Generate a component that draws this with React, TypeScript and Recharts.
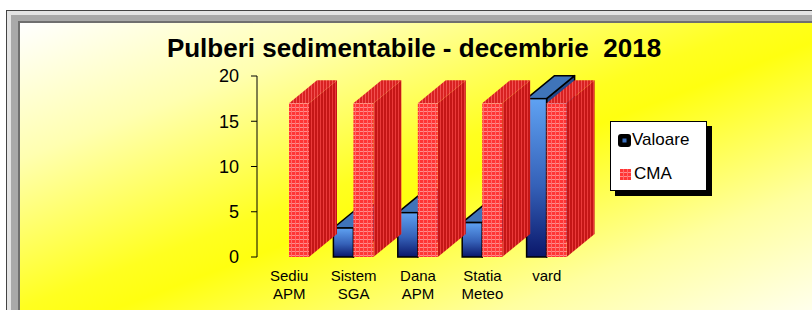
import React from 'react';
import { BarChart, Bar, XAxis, YAxis, Legend } from 'recharts';

const categories = ['Sediu APM', 'Sistem SGA', 'Dana APM', 'Statia Meteo', 'vard'];
const valoare = [0, 3.2, 4.9, 3.8, 17.5];
const cma = [17, 17, 17, 17, 17];
const yTicks = [0, 5, 10, 15, 20];

const data = categories.map((name, i) => ({ name, valoare: valoare[i], cma: cma[i] }));

const FONT = '"Liberation Sans", Arial, sans-serif';
// depth of the fake 3D boxes
const DX = 28;
const DY = 23;

const Box3D = (props: any) => {
  const { x, y, width: w, height: h, kind } = props;
  if (!h || h <= 0) return null;
  const top = `${x},${y} ${x + DX},${y - DY} ${x + w + DX},${y - DY} ${x + w},${y}`;
  const side = `${x + w},${y} ${x + w + DX},${y - DY} ${x + w + DX},${y + h - DY} ${x + w},${y + h}`;
  if (kind === 'blue') {
    return (
      <g>
        <polygon points={side} fill="#24488a" stroke="#000" strokeWidth={1.5} strokeLinejoin="round" />
        <polygon points={top} fill="#3f74b9" stroke="#000" strokeWidth={1.5} strokeLinejoin="round" />
        <rect x={x} y={y} width={w} height={h} fill="url(#blueFront)" stroke="#000" strokeWidth={1.5} />
      </g>
    );
  }
  return (
    <g>
      <polygon points={side} fill="url(#redSide)" />
      <polygon points={top} fill="url(#redTop)" />
      <rect x={x} y={y} width={w} height={h} fill="url(#redFront)" />
    </g>
  );
};

const XTick = ({ x, y, payload }: any) => {
  const lines = String(payload.value).split(' ');
  return (
    <text textAnchor="middle" fontSize={15} fontFamily={FONT} fill="#000">
      {lines.map((l, i) => (
        <tspan key={i} x={x} y={y + 16 + i * 17.5}>{l}</tspan>
      ))}
    </text>
  );
};

const LegendBox = () => (
  <div
    style={{
      width: 95,
      height: 68,
      background: '#fff',
      border: '1px solid #000',
      boxShadow: '5px 5px 0 #000',
      fontFamily: FONT,
      fontSize: 17,
      color: '#000',
      position: 'relative',
    }}
  >
    <div style={{ position: 'absolute', left: 7, top: 8, display: 'flex', alignItems: 'center' }}>
      <svg width={13} height={13} style={{ marginRight: 1 }}>
        <rect x={0} y={0} width={13} height={13} rx={3} fill="#000" />
        <rect x={4.5} y={4.5} width={4} height={4} fill="#3a70c0" />
      </svg>
      <span>Valoare</span>
    </div>
    <div style={{ position: 'absolute', left: 9, top: 42, display: 'flex', alignItems: 'center' }}>
      <svg width={11} height={11} style={{ marginRight: 3 }}>
        <rect x={0} y={0} width={11} height={11} fill="url(#redFront)" />
      </svg>
      <span>CMA</span>
    </div>
  </div>
);

export default function App() {
  return (
    <div style={{ position: 'absolute', left: 0, top: 0, width: 812, height: 310, overflow: 'hidden', background: '#fff' }}>
      <svg width={0} height={0} style={{ position: 'absolute' }}>
        <defs>
          <linearGradient id="blueFront" x1="0" y1="0" x2="0" y2="1">
            <stop offset="0%" stopColor="#5fa2f2" />
            <stop offset="55%" stopColor="#3561b8" />
            <stop offset="100%" stopColor="#0a176a" />
          </linearGradient>
          <pattern id="redFront" width="4" height="4" patternUnits="userSpaceOnUse">
            <rect width="4" height="4" fill="#ff3535" />
            <rect x="0" y="3" width="4" height="1" fill="#ff8c8c" />
            <rect x="3" y="0" width="1" height="4" fill="#ff6a6a" />
          </pattern>
          <pattern id="redSide" width="3" height="3" patternUnits="userSpaceOnUse">
            <rect width="3" height="3" fill="#c41616" />
            <rect x="2" y="0" width="1" height="3" fill="#ea3a3a" />
          </pattern>
          <pattern id="redTop" width="3" height="3" patternUnits="userSpaceOnUse">
            <rect width="3" height="3" fill="#d82222" />
            <rect x="2" y="0" width="1" height="3" fill="#f25050" />
          </pattern>
        </defs>
      </svg>
      {/* frame */}
      <div style={{ position: 'absolute', left: 6, top: 10, width: 830, height: 330, border: '1px solid #444', background: '#e4e4e4' }} />
      <div style={{ position: 'absolute', left: 11, top: 15, width: 830, height: 330, background: '#a9a9a9' }} />
      <div
        style={{
          position: 'absolute',
          left: 18,
          top: 21,
          width: 810,
          height: 310,
          borderLeft: '2px solid #6f6f6f',
          borderTop: '2px solid #6f6f6f',
          background: 'linear-gradient(to bottom right, #ffffff 0%, #ffffb0 22%, #ffff20 46%, #ffff10 52%, #ffffa0 76%, #ffffff 100%)',
        }}
      />
      <svg width={812} height={310} style={{ position: 'absolute', left: 0, top: 0 }}>
        <text x={414} y={57} textAnchor="middle" fontFamily={FONT} fontWeight="bold" fontSize={26} fill="#000" style={{ whiteSpace: 'pre' }}>
          Pulberi sedimentabile - decembrie  2018
        </text>
      </svg>
      <div style={{ position: 'absolute', left: 0, top: 0 }}>
        <BarChart
          width={812}
          height={310}
          data={data}
          margin={{ top: 76, right: 233, bottom: 0, left: 0 }}
          barSize={20}
          barGap={0}
        >
          <XAxis dataKey="name" height={53} axisLine={false} tickLine={false} tick={<XTick />} interval={0} />
          <YAxis
            width={257}
            domain={[0, 20]}
            ticks={yTicks}
            tickSize={6}
            tickMargin={12}
            axisLine={{ stroke: '#000' }}
            tickLine={{ stroke: '#000' }}
            tick={{ fill: '#000', fontSize: 18, fontFamily: FONT }}
          />
          <Legend
            layout="horizontal"
            verticalAlign="middle"
            align="center"
            wrapperStyle={{ left: 610, top: 121, width: 97 }}
            content={() => <LegendBox />}
          />
          <Bar dataKey="valoare" name="Valoare" isAnimationActive={false} shape={(p: any) => <Box3D {...p} kind="blue" />} />
          <Bar dataKey="cma" name="CMA" isAnimationActive={false} shape={(p: any) => <Box3D {...p} kind="red" />} />
        </BarChart>
      </div>
    </div>
  );
}
